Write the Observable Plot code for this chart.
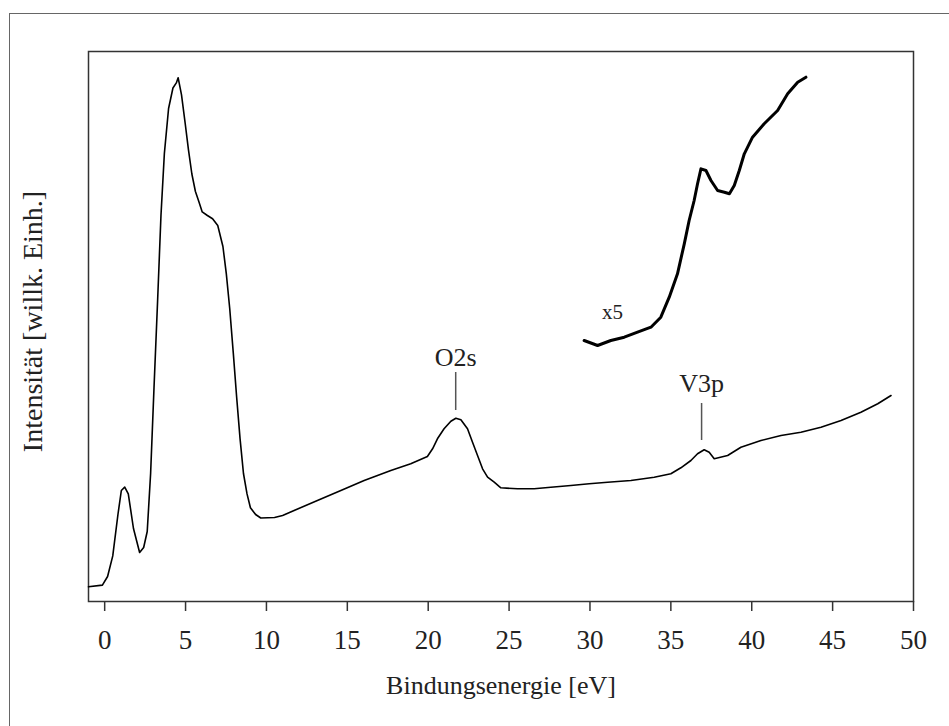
<!DOCTYPE html>
<html>
<head>
<meta charset="utf-8">
<script src="https://cdn.jsdelivr.net/npm/d3@7"></script>
<script src="https://cdn.jsdelivr.net/npm/@observablehq/plot@0.6"></script>
<style>
  html, body { margin: 0; padding: 0; background: #fff; }
  #wrap { position: relative; width: 949px; height: 726px; overflow: hidden; }
  #border { position: absolute; left: 9px; top: 13px; right: -2px; bottom: -2px;
            border-left: 1.5px solid #666; border-top: 1.5px solid #666; pointer-events: none; }
  #wrap svg, #wrap svg text { font-family: "Liberation Serif", "Times New Roman", serif !important; }
</style>
</head>
<body>
<div id="wrap"><div id="border"></div></div>
<script>
// Main spectrum: binding energy [eV] and intensity [arb. units]
const mainX = [-1.0, -0.14, 0.18, 0.5, 0.82, 1.03, 1.24, 1.46, 1.78, 2.16, 2.41, 2.63, 2.84, 3.05, 3.27, 3.48, 3.69, 3.95, 4.22, 4.43, 4.54, 4.75, 4.97, 5.18, 5.39, 5.61, 5.82, 6.03, 6.35, 6.67, 6.99, 7.31, 7.52, 7.73, 7.95, 8.16, 8.37, 8.58, 8.8, 9.01, 9.33, 9.65, 10.5, 11.0, 11.71, 13.15, 14.6, 16.04, 17.69, 18.92, 19.95, 20.27, 20.57, 20.98, 21.4, 21.71, 22.02, 22.43, 22.74, 23.05, 23.36, 23.67, 24.08, 24.49, 25.52, 26.55, 27.58, 28.82, 29.95, 31.09, 32.53, 33.97, 35.0, 35.62, 36.24, 36.65, 37.06, 37.37, 37.68, 38.51, 39.33, 40.57, 41.81, 43.04, 44.28, 45.52, 46.75, 47.79, 48.61];
const mainY = [14.7, 16.4, 25, 45.6, 87, 111, 114.4, 107.6, 73, 49, 54, 70, 128, 214, 300, 386, 448, 493, 513.5, 518.6, 523.8, 506.6, 479, 451.6, 427.5, 410, 400, 389.6, 386, 382.8, 376, 355, 327.7, 293, 248.6, 204, 162.6, 128, 107.6, 93.8, 87, 83.5, 84, 86, 91, 101, 111, 121, 131, 137.7, 145, 152.7, 162.7, 172.7, 180.3, 183.3, 181.7, 172.7, 159.3, 146, 132.7, 124.3, 119.3, 113.7, 112.7, 112.7, 114.3, 116, 117.7, 119.3, 121, 124.3, 127.7, 133.7, 141, 147.7, 151.7, 149.3, 142.7, 146, 154.3, 161, 166, 169.3, 174.3, 181, 189.3, 197.7, 206];

// Magnified (x5) section of the spectrum
const x5X = [29.64, 30.47, 31.29, 32.12, 32.94, 33.77, 34.38, 34.9, 35.41, 35.83, 36.13, 36.44, 36.65, 36.86, 37.17, 37.48, 37.89, 38.31, 38.62, 38.92, 39.23, 39.54, 40.05, 40.77, 41.6, 42.22, 42.84, 43.35];
const x5Y = [261, 256, 261, 264.3, 269.3, 274.3, 284.3, 304.3, 327.7, 357.7, 381, 401, 417.7, 432.7, 431, 421, 411, 409.3, 407.7, 416, 431, 447.7, 464.3, 477.7, 491, 507.7, 519.3, 524.3];

// Peak annotations
const peakLabels = ["O2s", "V3p"];
const peakX = [21.7, 36.9];
const peakLabelY = [244, 218];
const peakLineTop = [229, 198];
const peakLineBottom = [191, 161];

const scaleLabel = ["x5"];
const scaleLabelX = [31.4];
const scaleLabelY = [289];

const xTicks = [0, 5, 10, 15, 20, 25, 30, 35, 40, 45, 50];
const xLabel = "Bindungsenergie [eV]";
const yLabel = "Intensität [willk. Einh.]";

const serif = "Liberation Serif, Times New Roman, serif";

const mainData = mainX.map((x, i) => ({x, y: mainY[i]}));
const x5Data = x5X.map((x, i) => ({x, y: x5Y[i]}));
const peaks = peakLabels.map((t, i) => ({t, x: peakX[i], ly: peakLabelY[i], y1: peakLineTop[i], y2: peakLineBottom[i]}));
const scaleData = scaleLabel.map((t, i) => ({t, x: scaleLabelX[i], y: scaleLabelY[i]}));

const chart = Plot.plot({
  width: 949,
  height: 726,
  marginLeft: 88,
  marginRight: 36,
  marginTop: 51,
  marginBottom: 125,
  style: {fontFamily: serif, fontSize: "26px", color: "#222", background: "transparent", overflow: "visible"},
  x: {domain: [-1, 50]},
  y: {domain: [0, 550], axis: null},
  marks: [
    Plot.frame({stroke: "#333", strokeWidth: 1.5}),
    Plot.axisX({ticks: xTicks, tickSize: 10, tickPadding: 18, tickFormat: d => String(d), label: null, stroke: "#333", strokeWidth: 1.5, fontSize: 27, fontFamily: serif}),
    Plot.line(mainData, {x: "x", y: "y", stroke: "#000", strokeWidth: 1.6}),
    Plot.line(x5Data, {x: "x", y: "y", stroke: "#000", strokeWidth: 3}),
    Plot.ruleX(peaks, {x: "x", y1: "y1", y2: "y2", stroke: "#555", strokeWidth: 1.5}),
    Plot.text(peaks, {x: "x", y: "ly", text: "t", fontSize: 26, fontFamily: serif, fill: "#222"}),
    Plot.text(scaleData, {x: "x", y: "y", text: "t", fontSize: 21, fontFamily: serif, fill: "#222"}),
    Plot.text([xLabel], {frameAnchor: "bottom", textAnchor: "middle", lineAnchor: "middle", dy: 84, fontSize: 26, fontFamily: serif, fill: "#222"}),
    Plot.text([yLabel], {frameAnchor: "left", textAnchor: "middle", lineAnchor: "middle", dx: -55, dy: -5, rotate: -90, fontSize: 28, fontFamily: serif, fill: "#222"})
  ]
});
chart.style.position = "absolute";
chart.style.left = "0";
chart.style.top = "0";
document.getElementById("wrap").appendChild(chart);
</script>
</body>
</html>
